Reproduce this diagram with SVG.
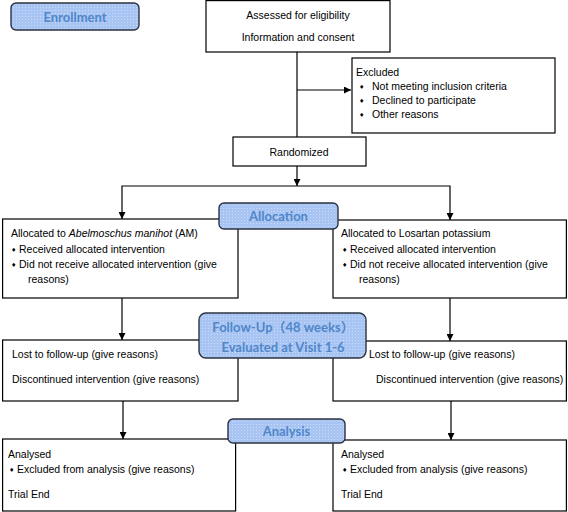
<svg xmlns="http://www.w3.org/2000/svg" width="568" height="512" viewBox="0 0 568 512">
<defs>
<style>
.box{fill:#fff;stroke:#000;stroke-width:1.2}
.pill{fill:url(#dots);stroke:#2b3340;stroke-width:1.4}
.t{font-family:"Liberation Sans",Arial,sans-serif;font-size:10.5px;fill:#000}
.c{text-anchor:middle}
.b{font-family:"DejaVu Sans",sans-serif;font-size:6px;fill:#000}
.p{font-family:Lato,"Noto Sans CJK SC",sans-serif;font-weight:bold;font-size:13px;fill:#4f87c9;text-anchor:middle}
.ln{fill:none;stroke:#000;stroke-width:1.2}
</style>
<pattern id="dots" width="3" height="3" patternUnits="userSpaceOnUse">
<rect width="3" height="3" fill="#a8c4f3"/>
<rect x="1" y="1" width="1" height="1" fill="#c9dbf8"/>
</pattern>
<marker id="ah" markerUnits="userSpaceOnUse" markerWidth="8" markerHeight="7" refX="7" refY="3.5" orient="auto">
<path d="M0,0 L7,3.5 L0,7 z" fill="#000"/>
</marker>
</defs>

<g id="connectors">
<path class="ln" d="M297,52 V137"/>
<path class="ln" d="M297,90 H351" marker-end="url(#ah)"/>
<path class="ln" d="M297,166 V186" marker-end="url(#ah)"/>
<path class="ln" d="M297,186 H122 V219" marker-end="url(#ah)"/>
<path class="ln" d="M297,186 H450 V220" marker-end="url(#ah)"/>
<path class="ln" d="M122,298 V340" marker-end="url(#ah)"/>
<path class="ln" d="M450,298 V341" marker-end="url(#ah)"/>
<path class="ln" d="M123,401 V439" marker-end="url(#ah)"/>
<path class="ln" d="M451,401 V440" marker-end="url(#ah)"/>
</g>

<g id="assessed">
<rect class="box" x="206" y="0.6" width="184" height="51.4"/>
<text class="t c" x="298" y="19">Assessed for eligibility</text>
<text class="t c" x="298" y="41">Information and consent</text>
</g>

<g id="excluded">
<rect class="box" x="352" y="58" width="203" height="75"/>
<text class="t" x="356" y="76">Excluded</text>
<text class="b" x="359" y="89">♦</text>
<text class="t" x="372" y="90">Not meeting inclusion criteria</text>
<text class="b" x="359" y="103">♦</text>
<text class="t" x="372" y="104">Declined to participate</text>
<text class="b" x="359" y="117">♦</text>
<text class="t" x="372" y="118">Other reasons</text>
</g>

<g id="randomized">
<rect class="box" x="233" y="137" width="133" height="29"/>
<text class="t c" x="299" y="156">Randomized</text>
</g>

<g id="alloc-am">
<rect class="box" x="2.6" y="219" width="235.4" height="79"/>
<text class="t" x="11" y="237">Allocated to <tspan font-style="italic">Abelmoschus manihot</tspan> (AM)</text>
<text class="b" x="11" y="252">♦</text>
<text class="t" x="19" y="253">Received allocated intervention</text>
<text class="b" x="11" y="267">♦</text>
<text class="t" x="19" y="268">Did not receive allocated intervention (give</text>
<text class="t" x="28" y="283">reasons)</text>
</g>

<g id="alloc-los">
<rect class="box" x="333" y="220" width="233.4" height="78"/>
<text class="t" x="341" y="237">Allocated to Losartan potassium</text>
<text class="b" x="342" y="252">♦</text>
<text class="t" x="350" y="253">Received allocated intervention</text>
<text class="b" x="342" y="267">♦</text>
<text class="t" x="350" y="268">Did not receive allocated intervention (give</text>
<text class="t" x="359" y="283">reasons)</text>
</g>

<g id="follow-am">
<rect class="box" x="2.6" y="340" width="235.4" height="61"/>
<text class="t" x="12" y="358">Lost to follow-up (give reasons)</text>
<text class="t" x="12" y="383">Discontinued intervention (give reasons)</text>
</g>

<g id="follow-los">
<rect class="box" x="333" y="341" width="233.4" height="60"/>
<text class="t" x="369" y="358">Lost to follow-up (give reasons)</text>
<text class="t" x="376" y="383">Discontinued intervention (give reasons)</text>
</g>

<g id="analysis-am">
<rect class="box" x="2.6" y="439" width="233" height="72"/>
<text class="t" x="8" y="458">Analysed</text>
<text class="b" x="9" y="472">♦</text>
<text class="t" x="17" y="473">Excluded from analysis (give reasons)</text>
<text class="t" x="8" y="498">Trial End</text>
</g>

<g id="analysis-los">
<rect class="box" x="333" y="440" width="233.4" height="71"/>
<text class="t" x="341" y="458">Analysed</text>
<text class="b" x="342" y="472">♦</text>
<text class="t" x="350" y="473">Excluded from analysis (give reasons)</text>
<text class="t" x="341" y="498">Trial End</text>
</g>

<g id="enrollment">
<rect class="pill" x="11" y="3" width="128" height="27" rx="5"/>
<text class="p" x="75" y="21.5">Enrollment</text>
</g>

<g id="allocation">
<rect class="pill" x="219" y="203" width="119" height="26" rx="5"/>
<text class="p" x="278.5" y="220.5">Allocation</text>
</g>

<g id="follow-up">
<rect class="pill" x="199" y="313" width="167" height="45" rx="7"/>
<text class="p" x="283" y="332" font-size="12">Follow-Up（48 weeks）</text>
<text class="p" x="283" y="351.5" font-size="12.5">Evaluated at Visit 1-6</text>
</g>

<g id="analysis">
<rect class="pill" x="228" y="419" width="117" height="24" rx="5"/>
<text class="p" x="286.5" y="435.5">Analysis</text>
</g>
</svg>
